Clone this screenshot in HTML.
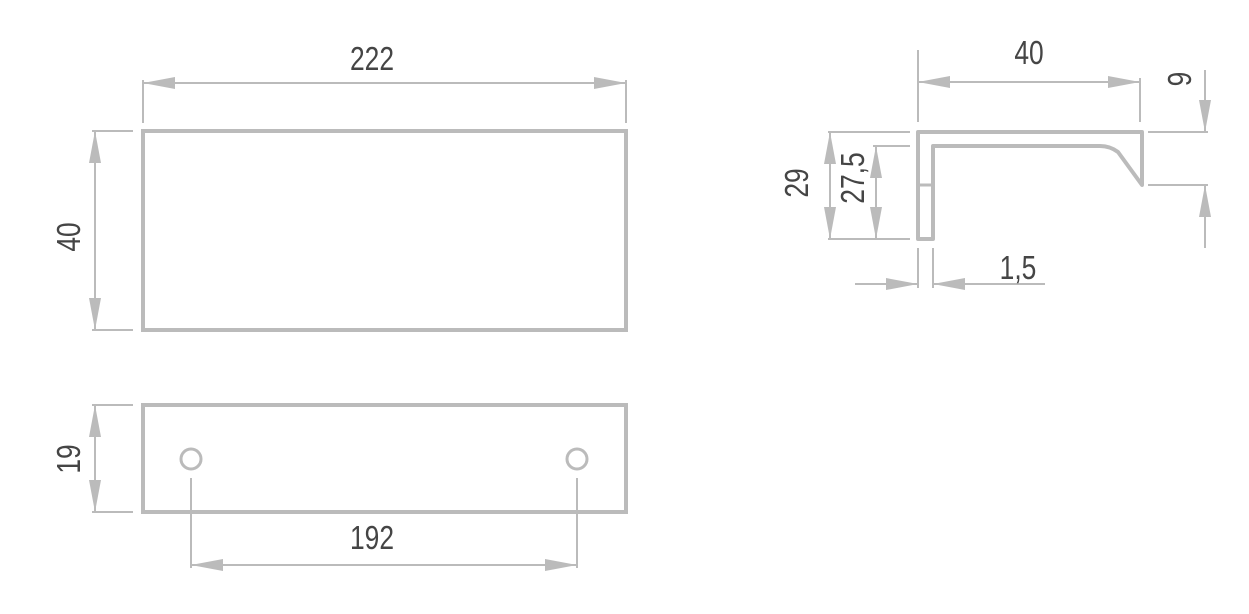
<!DOCTYPE html>
<html><head><style>html,body{margin:0;padding:0;background:#fff}svg{display:block}
text{font-family:"Liberation Sans Narrow","Liberation Sans",sans-serif;fill:#454545;font-size:33px}</style></head>
<body>
<svg width="1249" height="614" viewBox="0 0 1249 614" xmlns="http://www.w3.org/2000/svg">
<defs>
<marker id="a" markerWidth="32" markerHeight="12" refX="32" refY="6" orient="auto-start-reverse" markerUnits="userSpaceOnUse"><path d="M32,6 L0,0 L0,12 Z" fill="#bbb"/></marker>
</defs>
<g stroke="#bbb" fill="none">
<rect x="143" y="131" width="483" height="199" stroke-width="4"/>
<g stroke-width="2">
<line x1="143" y1="80" x2="143" y2="123"/><line x1="626" y1="80" x2="626" y2="123"/>
<line x1="143" y1="83" x2="626" y2="83" marker-start="url(#a)" marker-end="url(#a)"/>
<line x1="92" y1="131" x2="133" y2="131"/><line x1="92" y1="330" x2="133" y2="330"/>
<line x1="95" y1="131" x2="95" y2="330" marker-start="url(#a)" marker-end="url(#a)"/>
</g>
<rect x="143" y="405" width="483" height="107" stroke-width="4"/>
<circle cx="191" cy="459" r="10" stroke-width="3"/>
<circle cx="577" cy="459" r="10" stroke-width="3"/>
<g stroke-width="2">
<line x1="92" y1="405" x2="133" y2="405"/><line x1="92" y1="512" x2="133" y2="512"/>
<line x1="95" y1="405" x2="95" y2="512" marker-start="url(#a)" marker-end="url(#a)"/>
<line x1="191" y1="478" x2="191" y2="568"/><line x1="577" y1="478" x2="577" y2="568"/>
<line x1="191" y1="565" x2="577" y2="565" marker-start="url(#a)" marker-end="url(#a)"/>
</g>
<path d="M918,132 L1142,132 L1142,185 L1118,152 Q1110,146 1100,146 L933,146 L933,239 L918,239 Z" stroke-width="4" stroke-linejoin="round"/>
<line x1="918" y1="185" x2="933" y2="185" stroke-width="3"/>
<g stroke-width="2">
<line x1="918" y1="50" x2="918" y2="122"/><line x1="1140" y1="78" x2="1140" y2="122"/>
<line x1="918" y1="82" x2="1140" y2="82" marker-start="url(#a)" marker-end="url(#a)"/>
<line x1="1148" y1="132" x2="1208" y2="132"/><line x1="1148" y1="185" x2="1208" y2="185"/>
<line x1="1205" y1="70" x2="1205" y2="132" marker-end="url(#a)"/>
<line x1="1205" y1="248" x2="1205" y2="185" marker-end="url(#a)"/>
<line x1="828" y1="132" x2="910" y2="132"/><line x1="828" y1="239" x2="910" y2="239"/>
<line x1="873" y1="146" x2="910" y2="146"/>
<line x1="830" y1="132" x2="830" y2="239" marker-start="url(#a)" marker-end="url(#a)"/>
<line x1="876" y1="146" x2="876" y2="239" marker-start="url(#a)" marker-end="url(#a)"/>
<line x1="918" y1="248" x2="918" y2="288"/><line x1="933" y1="248" x2="933" y2="288"/>
<line x1="855" y1="284" x2="918" y2="284" marker-end="url(#a)"/>
<line x1="1045" y1="284" x2="933" y2="284" marker-end="url(#a)"/>
</g>
</g>
<text transform="translate(372,70) scale(0.8,1)" text-anchor="middle">222</text>
<text transform="translate(80,237) rotate(-90) scale(0.8,1)" text-anchor="middle">40</text>
<text transform="translate(80,459) rotate(-90) scale(0.8,1)" text-anchor="middle">19</text>
<text transform="translate(372,549) scale(0.8,1)" text-anchor="middle">192</text>
<text transform="translate(1029,64) scale(0.8,1)" text-anchor="middle">40</text>
<text transform="translate(1191,79) rotate(-90) scale(0.8,1)" text-anchor="middle">9</text>
<text transform="translate(808,183) rotate(-90) scale(0.8,1)" text-anchor="middle">29</text>
<text transform="translate(864,178) rotate(-90) scale(0.8,1)" text-anchor="middle">27,5</text>
<text transform="translate(1018,279) scale(0.8,1)" text-anchor="middle">1,5</text>
</svg>
</body></html>
